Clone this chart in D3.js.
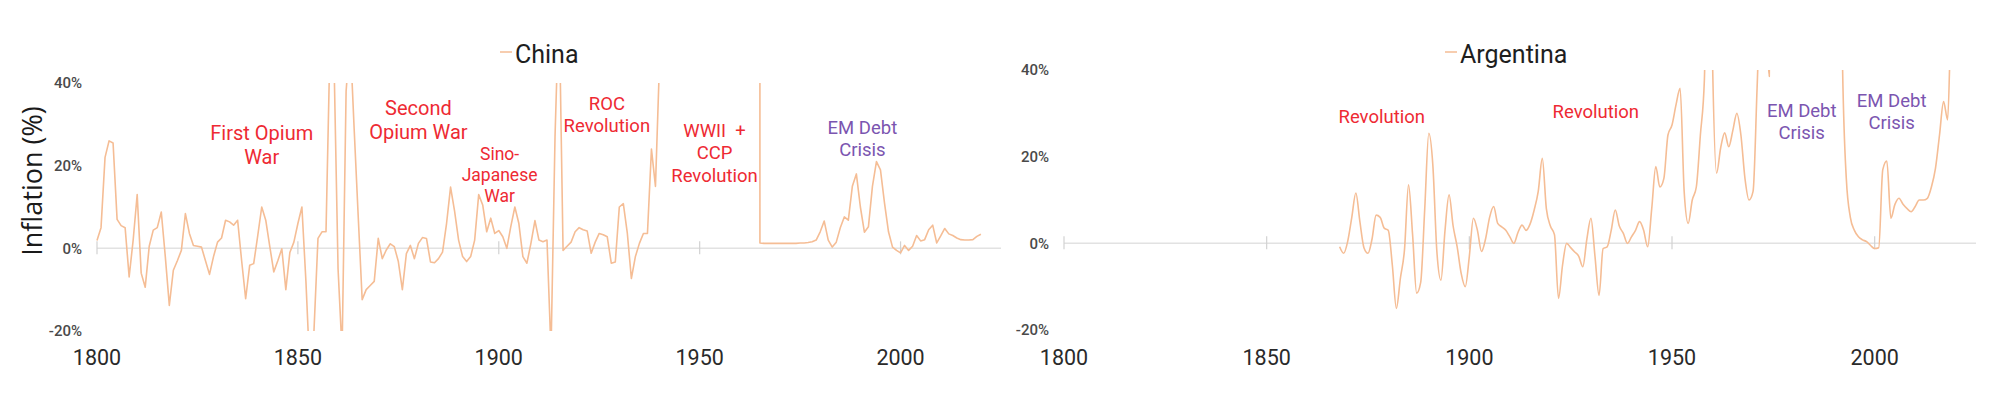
<!DOCTYPE html>
<html>
<head>
<meta charset="utf-8">
<script src="https://cdn.jsdelivr.net/npm/d3@7"></script>
<style>
  body { margin: 0; background: #fff; }
  svg { display: block; }
</style>
</head>
<body>
<div id="chart"></div>
<script>
// Annual inflation (%)
const chinaStart = 1800;
const chinaValues1800 = [
  1.9, 5, 22, 26, 25.5, 7, 5.5, 5, -6.9, 2,            // 1800s
  13, -6, -9.4, 0.5, 4.4, 5, 8.8, -2, -13.8, -5.3,     // 1810s
  -3, -0.5, 8.4, 3.6, 0.7, 0.5, 0.3, -3, -6.3, -2,     // 1820s
  1.5, 2.5, 6.8, 6.4, 5.6, 6.8, -3, -12.2, -4.1, -3.7, // 1830s
  3, 10, 6.8, 0.5, -5.7, -3, -0.1, -10, -1, 1.5,       // 1840s
  6, 10, -8, -30, -20, 2.4, 4, 4, 50, 45,              // 1850s
  -5, -25, 38, 51, 29, 8, -12.4, -10, -9, -8,          // 1860s
  2.4, -2.5, -0.4, 1.1, 0.4, -3.2, -10, -1.3, 0.7, -2.5, // 1870s
  1.2, 2.6, 2.4, -3.3, -3.5, -2.5, -0.9, 6, 14.8, 9,   // 1880s
  2, -2, -3.2, -2, 2, 13, 10.5, 4, 7.3, 3.6,           // 1890s
  4.3, 2.8, 0, 5.3, 10, 6, -2, -3.6, 1.2, 6.7,         // 1900s
  2, 1.6, 2, -25, 27, 60, -0.5, 0.5, 1.5, 4,           // 1910s
  5, 4.5, 4.2, -1.2, 1.5, 3.6, 3.3, 2.8, -3.6, -3.3,   // 1920s
  10, 10.8, 3.6, -7.3, -2, 1.2, 3.6, 3.6, 24, 15,      // 1930s
  45, 100, 200, 300, 250, 1000, 200, 1000, 5000, 100000 // 1940s
];
const chinaLateStart = 1965;
const chinaValues1965 = [
  1.3, 1.2, 1.2, 1.2, 1.2,                             // 1965-69
  1.2, 1.2, 1.2, 1.2, 1.2, 1.3, 1.3, 1.4, 1.6, 2,      // 1970s
  4, 6.6, 2, 0.3, 1.5, 5, 7.6, 6.8, 15, 18,            // 1980s
  10, 3.9, 5.2, 15, 21, 19, 11, 4, 0.3, -0.5,          // 1990s
  -1.1, 0.7, -0.5, 0.5, 3.1, 1.8, 2.1, 4.5, 5.6, 1.3,  // 2000s
  3, 4.8, 3.5, 3.1, 2.5, 2.1, 2, 2, 2.1, 2.9,          // 2010s
  3.4
];
const argentinaStart = 1868;
const argentinaValues = [
  -0.8, -2.3,                                          // 1868-69
  0.5, 6, 11.6, 5, -1, -2.3, 1, 6.5, 6, 3.5,           // 1870s
  3, -5, -15, -8, -1.5, 13.5, 2, -11.5, -9, 8,         // 1880s
  25.4, 18, -2, -8.5, 3, 11.2, 4, -0.8, -7, -10,       // 1890s
  -3, 5.8, 3, -1.9, 1, 6, 8.5, 4.6, 3.8, 3,            // 1900s
  1.5, 0, 2.5, 4.2, 3, 4.5, 7.7, 12, 19.6, 8,          // 1910s
  4, 2, -12.7, -5, 0, -1, -2, -3, -5.4, 1,             // 1920s
  5.8, -3, -12, -1.2, -0.8, 3, 7.7, 4, 2.3, 0,         // 1930s
  1.5, 3, 5, 3, -0.8, 8, 17.7, 13, 15, 25,             // 1940s
  27.3, 32, 35.8, 12, 4.6, 10, 13, 25, 38, 110,        // 1950s
  42, 16.2, 22, 25.5, 22.3, 26, 30, 25, 15, 10,        // 1960s
  12, 36, 60, 55, 38.5, 180, 440, 170, 170, 160,       // 1970s
  100, 105, 165, 345, 625, 670, 90, 130, 345, 3000,    // 1980s
  2300, 170, 45, 15, 6, 3, 1.5, 0.8, 0.4, -0.5,        // 1990s
  -1.2, -1, 17, 19, 5.8, 9, 10.4, 9, 8, 7.3,           // 2000s
  8.5, 10, 10, 10.4, 13, 17.3, 25, 32.7, 28.5, 54,     // 2010s
  43, 48, 72                                           // 2020-22
];

const yearTicks = [1800, 1850, 1900, 1950, 2000];
const pctTicks = [-20, 0, 20, 40];

// event labels, anchored in chart units (year, % at first baseline)
const chinaNotes = [
  {lines: ["First Opium", "War"], year: 1841, pct: 26.2, kind: "war"},
  {lines: ["Second", "Opium War"], year: 1880, pct: 32.2, kind: "war"},
  {lines: ["Sino-", "Japanese", "War"], year: 1900.2, pct: 21.3, kind: "war"},
  {lines: ["ROC", "Revolution"], year: 1926.9, pct: 33.4, kind: "war"},
  {lines: ["WWII  +", "CCP", "Revolution"], year: 1953.7, pct: 26.9, kind: "war"},
  {lines: ["EM Debt", "Crisis"], year: 1990.5, pct: 27.6, kind: "debt"}
];
const argentinaNotes = [
  {lines: ["Revolution"], year: 1878.4, pct: 27.8, kind: "war"},
  {lines: ["Revolution"], year: 1931.2, pct: 28.9, kind: "war"},
  {lines: ["EM Debt", "Crisis"], year: 1982, pct: 29.2, kind: "debt"},
  {lines: ["EM Debt", "Crisis"], year: 2004.2, pct: 31.5, kind: "debt"}
];

const noteColor = {war: "#ee2a33", debt: "#7b55b0"};
const noteSize = {"First Opium": 20, "Second": 20, "Sino-": 17.5};
const lineColor = "#f5bd95";

function toPoints(start, values) {
  return values.map((v, i) => ({year: start + i, value: v}));
}

const W = 1989, H = 401;
const svg = d3.select("#chart").append("svg")
  .attr("width", W).attr("height", H)
  .style("font-family", "Roboto, 'Noto Sans', sans-serif");

const panels = [
  {
    name: "China",
    segments: [toPoints(chinaStart, chinaValues1800), toPoints(chinaLateStart, chinaValues1965)],
    xRange: [97, 1001], yRange: [331, 83],
    curve: d3.curveLinear, titleX: 515, labelRight: 82, notes: chinaNotes
  },
  {
    name: "Argentina",
    segments: [toPoints(argentinaStart, argentinaValues)],
    xRange: [1064, 1976], yRange: [330, 70],
    curve: d3.curveMonotoneX, titleX: 1460, labelRight: 1049, notes: argentinaNotes
  }
];

panels.forEach((p, pi) => {
  const x = d3.scaleLinear().domain([1800, 2025]).range(p.xRange);
  const y = d3.scaleLinear().domain([-20, 40]).range(p.yRange);
  const g = svg.append("g");
  const y0 = y(0);

  // zero line + year ticks
  g.append("line")
    .attr("x1", p.xRange[0]).attr("x2", p.xRange[1])
    .attr("y1", y0).attr("y2", y0)
    .attr("stroke", "#e2e2e2").attr("stroke-width", 1.5);
  g.selectAll(".tk").data(yearTicks).join("line")
    .attr("x1", d => x(d)).attr("x2", d => x(d))
    .attr("y1", y0 - 7).attr("y2", y0 + 6)
    .attr("stroke", "#d2d2d2").attr("stroke-width", 1.2);

  // y tick labels
  g.selectAll(".yl").data(pctTicks).join("text")
    .attr("x", p.labelRight).attr("y", d => y(d))
    .attr("dy", "0.35em")
    .attr("text-anchor", "end")
    .attr("font-size", 15).attr("font-weight", 500)
    .attr("fill", "#4a4a4a")
    .text(d => d + "%");

  // x tick labels
  g.selectAll(".xl").data(yearTicks).join("text")
    .attr("x", d => x(d)).attr("y", 365)
    .attr("text-anchor", "middle")
    .attr("font-family", "'Liberation Sans Narrow', Roboto, sans-serif")
    .attr("font-size", 21.5)
    .attr("fill", "#2a2a2a")
    .text(d => d);

  // series line, clipped to the plot band
  const clipId = "clip" + pi;
  svg.append("clipPath").attr("id", clipId)
    .append("rect")
    .attr("x", p.xRange[0] - 5).attr("y", p.yRange[1])
    .attr("width", p.xRange[1] - p.xRange[0] + 10)
    .attr("height", p.yRange[0] - p.yRange[1]);

  const line = d3.line().x(d => x(d.year)).y(d => y(d.value)).curve(p.curve);
  const pts = p.segments.flat();
  g.append("path")
    .datum(pts)
    .attr("clip-path", `url(#${clipId})`)
    .attr("fill", "none")
    .attr("stroke", lineColor)
    .attr("stroke-width", 1.6)
    .attr("stroke-linejoin", "round")
    .attr("d", line);

  // legend-style title
  g.append("line")
    .attr("x1", p.titleX - 15).attr("x2", p.titleX - 3)
    .attr("y1", 52).attr("y2", 52)
    .attr("stroke", lineColor).attr("stroke-width", 1.5);
  g.append("text")
    .attr("x", p.titleX).attr("y", 63)
    .attr("font-size", 25)
    .attr("fill", "#1e1e1e")
    .text(p.name);

  // event annotations
  p.notes.forEach(n => {
    const fs = noteSize[n.lines[0]] || 18.5;
    const t = g.append("text")
      .attr("x", x(n.year)).attr("y", y(n.pct))
      .attr("text-anchor", "middle")
      .attr("font-size", fs)
      .attr("fill", noteColor[n.kind]);
    n.lines.forEach((s, i) => {
      t.append("tspan")
        .attr("x", x(n.year))
        .attr("dy", i === 0 ? 0 : fs * 1.2)
        .attr("xml:space", "preserve")
        .text(s);
    });
  });
});

// shared y axis title
svg.append("text")
  .attr("transform", "translate(42,181) rotate(-90)")
  .attr("text-anchor", "middle")
  .attr("font-family", "'Open Sans', sans-serif")
  .attr("font-size", 27)
  .attr("fill", "#1a1a1a")
  .text("Inflation (%)");
</script>
</body>
</html>
